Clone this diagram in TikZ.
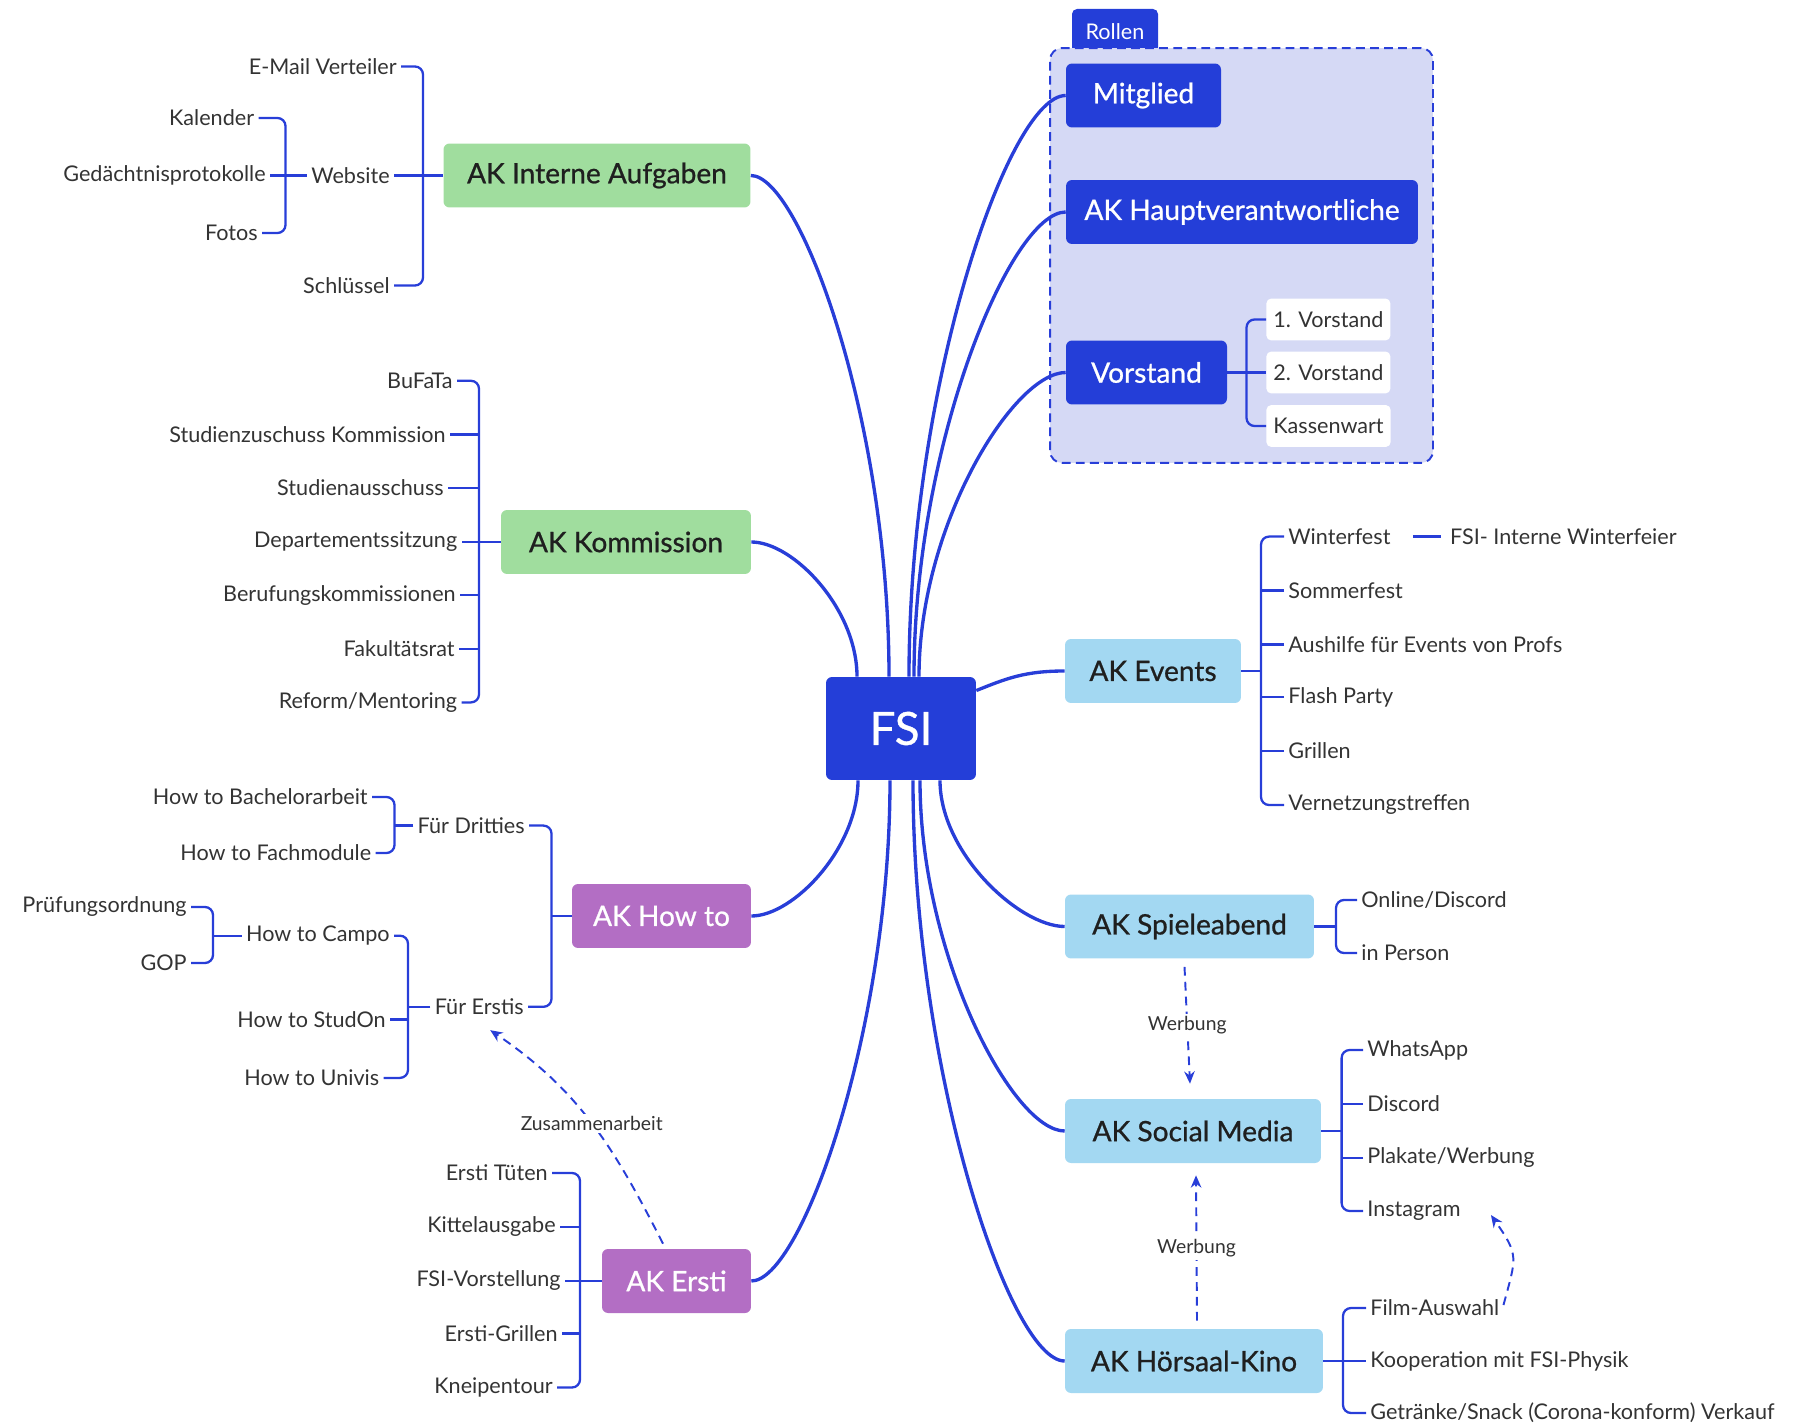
\documentclass[tikz,border=0pt]{standalone}
\usepackage{fontspec}
\setmainfont{Lato}
\newfontfamily\akfont[FakeBold=0.8]{Lato}
\usetikzlibrary{arrows.meta,positioning,calc}
\definecolor{lineblue}{RGB}{40,62,216}
\definecolor{fsiblue}{RGB}{36,62,216}
\definecolor{akgreen}{RGB}{160,221,158}
\definecolor{akpurple}{RGB}{179,110,196}
\definecolor{aksky}{RGB}{163,216,242}
\definecolor{lavender}{RGB}{213,217,245}
\definecolor{ink}{RGB}{51,51,51}

\begin{document}
\begin{tikzpicture}[x=0.02cm,y=0.02cm,
  every node/.style={font=\fontsize{12.3}{14}\selectfont,text=ink},
  leafL/.style={anchor=east,inner xsep=0.08cm,inner ysep=0.04cm},
  leafR/.style={anchor=west,inner xsep=0.08cm,inner ysep=0.04cm},
  ak/.style={rounded corners=0.12cm,minimum height=1.28cm,inner sep=0pt,text=black!88,font=\akfont\fontsize{16}{19}\selectfont},
  role/.style={ak,fill=fsiblue,text=white},
  sub/.style={anchor=west,fill=white,rounded corners=0.1cm,minimum height=0.84cm,inner xsep=0.14cm},
  branch/.style={draw=lineblue,line width=1.9pt},
  twig/.style={draw=lineblue,line width=1.3pt,rounded corners=0.16cm},
  link/.style={draw=lineblue,line width=1.1pt,dash pattern=on 5pt off 3.5pt,-{Stealth[length=7pt,width=6pt]}},
  lbl/.style={fill=white,inner sep=1.5pt,font=\fontsize{11}{13}\selectfont}
]
\useasboundingbox (0,0) rectangle (1798,-1425);

\node[fill=fsiblue,text=white,rounded corners=0.1cm,minimum width=1.72cm,minimum height=0.9cm,inner sep=0pt] (rollentab) at (1115,-31.5) {Rollen};
\node[draw=lineblue,fill=lavender,line width=1.1pt,dash pattern=on 5pt off 3pt,rounded corners=0.24cm,minimum width=7.66cm,minimum height=8.3cm] (rollen) at (1241.5,-255.5) {};

\node[role,minimum width=3.1cm] (mitglied) at (1143.5,-95.5) {Mitglied};
\node[role,minimum width=7.04cm] (haupt) at (1242,-212) {AK Hauptverantwortliche};
\node[role,minimum width=3.22cm] (vorstand) at (1146.5,-372.5) {Vorstand};
\node[sub] (vorst1) at (1266,-319.5) {1. Vorstand};
\node[sub] (vorst2) at (1266,-372.5) {2. Vorstand};
\node[sub] (kasse) at (1266,-426) {Kassenwart};

\node[role,minimum width=3cm,minimum height=2.06cm,font=\akfont\fontsize{26}{30}\selectfont] (fsi) at (901,-728.5) {FSI};

\node[ak,fill=akgreen,minimum width=6.14cm] (interne) at (597,-175.5) {AK Interne Aufgaben};
\node[ak,fill=akgreen,minimum width=5cm] (kommission) at (626,-542) {AK Kommission};
\node[ak,fill=akpurple,text=white,minimum width=3.58cm] (howto) at (661.5,-916) {AK How to};
\node[ak,fill=akpurple,text=white,minimum width=2.98cm] (ersti) at (676.5,-1281) {AK Ersti};
\node[ak,fill=aksky,minimum width=3.52cm] (events) at (1153,-671) {AK Events};
\node[ak,fill=aksky,minimum width=4.98cm] (spiele) at (1189.5,-926.5) {AK Spieleabend};
\node[ak,fill=aksky,minimum width=5.12cm] (social) at (1193,-1131) {AK Social Media};
\node[ak,fill=aksky,minimum width=5.16cm] (hoersaal) at (1194,-1361) {AK Hörsaal-Kino};

\node[leafL] (email) at (401,-66.5) {E-Mail Verteiler};
\node[leafL] (website) at (394,-175.5) {Website};
\node[leafL] (schluessel) at (394,-285.5) {Schlüssel};
\node[leafL] (kalender) at (258.5,-118) {Kalender};
\node[leafL] (gedaechtnis) at (270,-175.5) {Gedächtnisprotokolle};
\node[leafL] (fotos) at (262,-233) {Fotos};

\node[leafL] (bufata) at (457,-380.8) {BuFaTa};
\node[leafL] (zuschuss) at (450,-434.4) {Studienzuschuss Kommission};
\node[leafL] (ausschuss) at (448,-488) {Studienausschuss};
\node[leafL] (sitzung) at (461.5,-542) {Departementssitzung};
\node[leafL] (berufung) at (460,-595.2) {Berufungskommissionen};
\node[leafL] (fakrat) at (459,-648.8) {Fakultätsrat};
\node[leafL] (reform) at (461.5,-702.4) {Reform/Mentoring};

\node[leafL] (dritties) at (529,-825.6) {Für Dritties};
\node[leafL] (erstis) at (528,-1006.8) {Für Erstis};
\node[leafL] (bachelor) at (372,-797) {How to Bachelorarbeit};
\node[leafL] (fachmodule) at (375.5,-853) {How to Fachmodule};
\node[leafL] (campo) at (394,-935.7) {How to Campo};
\node[leafL] (studon) at (390,-1019.4) {How to StudOn};
\node[leafL] (univis) at (383.5,-1077.9) {How to Univis};
\node[leafL] (pruefung) at (191,-907) {Prüfungsordnung};
\node[leafL] (gop) at (191,-963) {GOP};

\node[leafL] (tueten) at (552,-1173) {Ersti Tüten};
\node[leafL] (kittel) at (560,-1227) {Kittelausgabe};
\node[leafL] (vorstellung) at (565,-1281) {FSI-Vorstellung};
\node[leafL] (egrillen) at (562,-1333.6) {Ersti-Grillen};
\node[leafL] (kneipe) at (557,-1387.5) {Kneipentour};

\node[leafR] (winter) at (1284,-536.6) {Winterfest};
\node[leafR,right=1.02cm of winter] (winterfeier) {FSI- Interne Winterfeier};
\node[leafR] (sommer) at (1284,-590.5) {Sommerfest};
\node[leafR] (aushilfe) at (1284,-644.4) {Aushilfe für Events von Profs};
\node[leafR] (flash) at (1284,-697.2) {Flash Party};
\node[leafR] (grillen) at (1284,-751) {Grillen};
\node[leafR] (vernetz) at (1284,-805) {Vernetzungstreffen};

\node[leafR] (online) at (1357,-900) {Online/Discord};
\node[leafR] (person) at (1357,-953) {in Person};
\node[leafR] (whatsapp) at (1363,-1050) {WhatsApp};
\node[leafR] (discord) at (1363,-1104) {Discord};
\node[leafR] (plakate) at (1363,-1158) {Plakate/Werbung};
\node[leafR] (instagram) at (1363,-1211) {Instagram};
\node[leafR] (film) at (1366,-1308) {Film-Auswahl};
\node[leafR] (koop) at (1366,-1361) {Kooperation mit FSI-Physik};
\node[leafR] (getraenke) at (1366,-1413) {Getränke/Snack (Corona-konform) Verkauf};

\coordinate (ib) at (423,-175.5);
\coordinate (wb) at (285.5,-175.5);
\coordinate (kb) at (479,-542);
\coordinate (hb) at (551.5,-916);
\coordinate (db) at (394.5,-825.6);
\coordinate (eb) at (408,-1006.8);
\coordinate (cb) at (213,-935.7);
\coordinate (rb) at (580,-1281);
\coordinate (vb) at (1261,-671);
\coordinate (sb) at (1336,-926.5);
\coordinate (mb) at (1341.6,-1131);
\coordinate (nb) at (1343,-1361);
\coordinate (ob) at (1246.5,-372.5);

\draw[twig] (email.east) -| (ib) |- (schluessel.east);
\draw[twig] (interne.west) -- (website.east);
\draw[twig] (kalender.east) -| (wb) |- (fotos.east);
\draw[twig] (website.west) -- (gedaechtnis.east);

\draw[twig] (bufata.east) -| (kb) |- (reform.east);
\draw[twig] (kommission.west) -- (sitzung.east);
\draw[twig] (zuschuss.east) -- (zuschuss.east -| kb);
\draw[twig] (ausschuss.east) -- (ausschuss.east -| kb);
\draw[twig] (berufung.east) -- (berufung.east -| kb);
\draw[twig] (fakrat.east) -- (fakrat.east -| kb);

\draw[twig] (dritties.east) -| (hb) |- (erstis.east);
\draw[twig] (howto.west) -- (hb);
\draw[twig] (bachelor.east) -| (db) |- (fachmodule.east);
\draw[twig] (dritties.west) -- (db);
\draw[twig] (campo.east) -| (eb) |- (univis.east);
\draw[twig] (erstis.west) -- (eb);
\draw[twig] (studon.east) -- (studon.east -| eb);
\draw[twig] (pruefung.east) -| (cb) |- (gop.east);
\draw[twig] (campo.west) -- (cb);

\draw[twig] (tueten.east) -| (rb) |- (kneipe.east);
\draw[twig] (ersti.west) -- (vorstellung.east);
\draw[twig] (kittel.east) -- (kittel.east -| rb);
\draw[twig] (egrillen.east) -- (egrillen.east -| rb);

\draw[twig] (winter.west) -| (vb) |- (vernetz.west);
\draw[twig] (events.east) -- (vb);
\draw[twig] (sommer.west) -- (sommer.west -| vb);
\draw[twig] (aushilfe.west) -- (aushilfe.west -| vb);
\draw[twig] (flash.west) -- (flash.west -| vb);
\draw[twig] (grillen.west) -- (grillen.west -| vb);
\draw[twig,shorten <=0.36cm,shorten >=0.1cm] (winter.east) -- (winterfeier.west);

\draw[twig] (online.west) -| (sb) |- (person.west);
\draw[twig] (spiele.east) -- (sb);
\draw[twig] (whatsapp.west) -| (mb) |- (instagram.west);
\draw[twig] (social.east) -- (mb);
\draw[twig] (discord.west) -- (discord.west -| mb);
\draw[twig] (plakate.west) -- (plakate.west -| mb);
\draw[twig] (film.west) -| (nb) |- (getraenke.west);
\draw[twig] (hoersaal.east) -- (koop.west);

\draw[twig] (vorst1.west) -| (ob) |- (kasse.west);
\draw[twig] (vorstand.east) -- (vorst2.west);

\draw[branch] ([xshift=-0.24cm]fsi.north) .. controls +(0,257) and +(49,0) .. (interne.east);
\draw[branch] ([xshift=-0.88cm]fsi.north) .. controls +(0,68) and +(42,0) .. (kommission.east);
\draw[branch] ([xshift=0.16cm]fsi.north) .. controls +(0,291) and +(-57,0) .. (mitglied.west);
\draw[branch] ([xshift=0.26cm]fsi.north) .. controls +(0,232) and +(-55,0) .. (haupt.west);
\draw[branch] ([xshift=0.36cm]fsi.north) .. controls +(0,152) and +(-52,0) .. (vorstand.west);
\draw[branch] ([yshift=0.76cm]fsi.east) .. controls +(30,12) and +(-40,0) .. (events.west);
\draw[branch] ([xshift=-0.86cm]fsi.south) .. controls +(0,-68) and +(42,0) .. (howto.east);
\draw[branch] ([xshift=-0.22cm]fsi.south) .. controls +(0,-250) and +(50,0) .. (ersti.east);
\draw[branch] ([xshift=0.78cm]fsi.south) .. controls +(0,-73) and +(-45,0) .. (spiele.west);
\draw[branch] ([xshift=0.38cm]fsi.south) .. controls +(0,-175) and +(-52,0) .. (social.west);
\draw[branch] ([xshift=0.24cm]fsi.south) .. controls +(0,-290) and +(-55,0) .. (hoersaal.west);

\draw[link] ([xshift=-0.27cm,yshift=0.1cm]ersti.north) to[out=117,in=-34] node[lbl,pos=0.5] {Zusammenarbeit} ([xshift=0.22cm,yshift=-0.26cm]erstis.south);
\draw[link] ([xshift=-0.1cm,yshift=-0.16cm]spiele.south) -- node[lbl] {Werbung} ([xshift=-0.06cm,yshift=0.3cm]social.north);
\draw[link] ([xshift=0.06cm,yshift=0.16cm]hoersaal.north) -- node[lbl] {Werbung} ([xshift=0.06cm,yshift=-0.24cm]social.south);
\draw[link] ([yshift=0.06cm]film.east) to[out=75,in=-55,looseness=1.4] ([xshift=0.52cm,yshift=-0.08cm]instagram.east);
\end{tikzpicture}
\end{document}
